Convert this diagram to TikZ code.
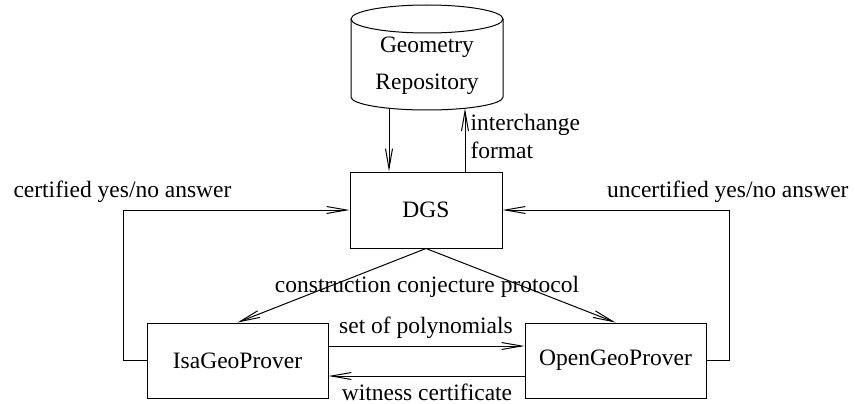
\documentclass[tikz,border=0pt]{standalone}
\usepackage{fontspec}
\setmainfont{Liberation Serif}
\usetikzlibrary{arrows.meta}
\begin{document}
\begin{tikzpicture}[x=1pt,y=-1pt,
  font=\fontsize{23.5}{28}\selectfont,
  >={Straight Barb[length=20pt,width=7pt,line width=1pt]},
  line width=1pt,
  box/.style={draw, inner sep=0pt, minimum height=75pt},
  lbl/.style={anchor=base, inner sep=0pt}]
\useasboundingbox (0,0) rectangle (855,404);
% cylinder (Geometry Repository)
\draw (351,19) -- (351,97) arc[start angle=180, end angle=360, x radius=76, y radius=-13] -- (503,19);
\draw (427,19) ellipse[x radius=76, y radius=14];
\node[lbl] (geo) at (427,53) {Geometry};
\node[lbl] (rep) at (427,89) {Repository};
\coordinate (rd) at (389,108.3);
\coordinate (ru) at (465,108.3);
% boxes
\node[box, minimum width=152pt, minimum height=76pt] (dgs) at (426,210) {DGS};
\node[box, minimum width=181pt] (isa) at (237.5,360.5) {IsaGeoProver};
\node[box, minimum width=181pt] (open) at (615.5,360.5) {OpenGeoProver};
% repository <-> DGS
\draw[->] (rd) -- (rd |- dgs.north);
\draw[->] (ru |- dgs.north) -- (ru);
\node[lbl, anchor=base west] (ich) at (470,131) {interchange};
\node[lbl, anchor=base west] (fmt) at (470,158) {format};
% feedback loops
\draw[->] (isa.west) -- ++(-23,0) |- (dgs.west);
\draw[->] (open.east) -- ++(23,0) |- (dgs.east);
\node[lbl, anchor=base west] (cert) at (13,197) {certified yes/no answer};
\node[lbl, anchor=base east] (ucert) at (849,197) {uncertified yes/no answer};
% DGS -> provers
\draw[->] (dgs.south) -- (isa.north);
\draw[->] (dgs.south) -- (open.north);
\node[lbl] (ccp) at (427,292) {construction conjecture protocol};
% prover <-> prover
\draw[->] ([yshift=14.5pt]isa.east) -- ([yshift=14.5pt]open.west);
\draw[->] ([yshift=-15.5pt]open.west) -- ([yshift=-15.5pt]isa.east);
\node[lbl] (sop) at (426,333) {set of polynomials};
\node[lbl] (wc) at (427,400) {witness certificate};
\end{tikzpicture}
\end{document}
